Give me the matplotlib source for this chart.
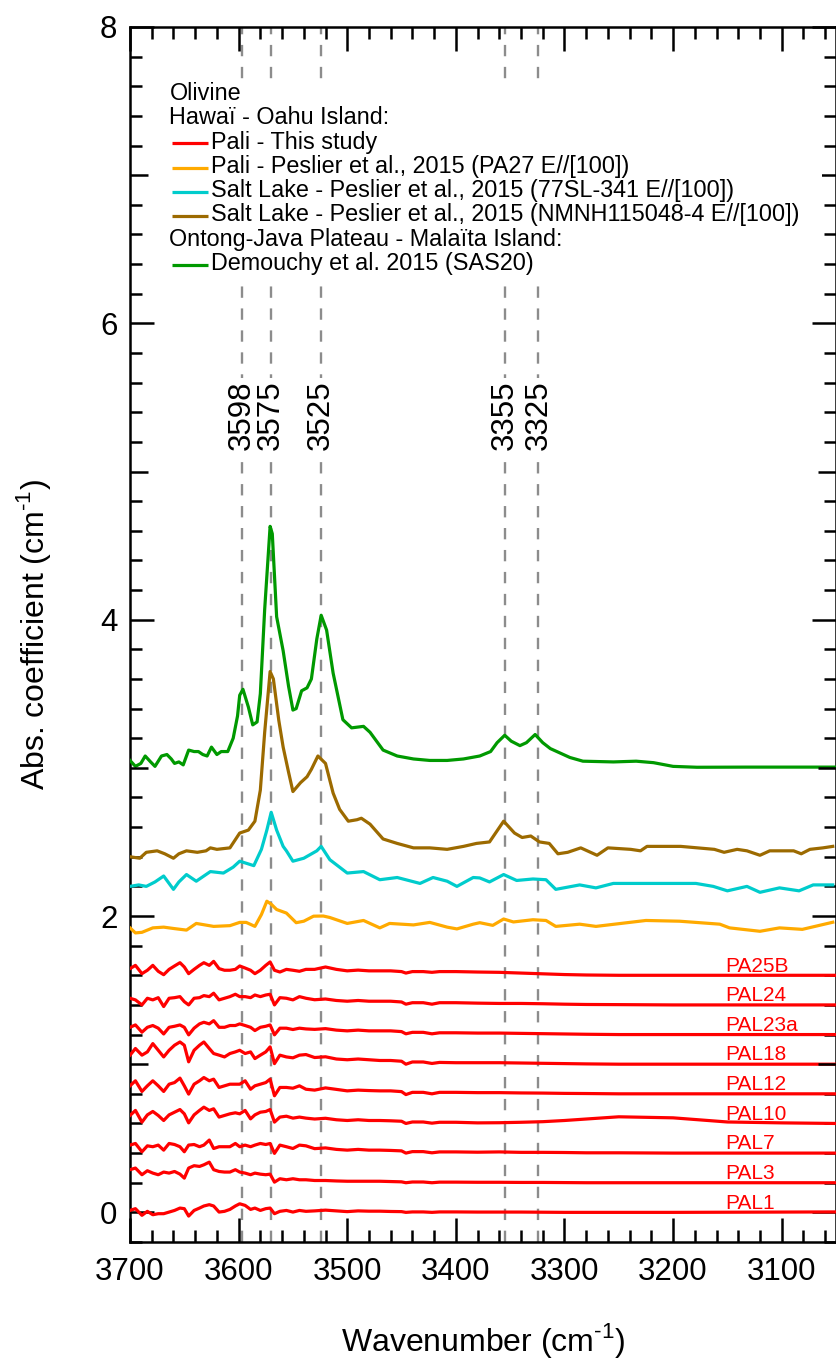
import numpy as np
import matplotlib.pyplot as plt
from matplotlib.transforms import blended_transform_factory
from matplotlib.patches import Rectangle

plt.rcParams['font.family'] = ['Liberation Sans', 'DejaVu Sans']
plt.rcParams['mathtext.fontset'] = 'custom'
plt.rcParams['mathtext.rm'] = 'Liberation Sans'

# wavenumber grid shared by the red (this study) spectra
x_red = [3700, 3695, 3689, 3684, 3679, 3674, 3669, 3664, 3659, 3654,
         3650, 3646, 3641, 3636, 3632, 3627, 3623, 3618, 3613, 3608,
         3603, 3599, 3594, 3589, 3585, 3580, 3575, 3571, 3567, 3562,
         3556, 3550, 3544, 3538, 3530, 3520, 3510, 3500, 3490, 3480,
         3470, 3460, 3450, 3446, 3440, 3430, 3422, 3415, 3400, 3380,
         3360, 3340, 3320, 3300, 3280, 3250, 3200, 3150, 3100, 3050]

# red spectra, in 1/100 cm-1 above their own offset
pa25b = [4.5, 6.7, 1.1, 3.4, 6.7, 2.7, 0.4, 4, 6.3, 8.5,
         5.6, 1.1, 4, 6.7, 8.5, 6.7, 9.4, 4.5, 3.4, 3.4,
         4, 6.3, 4.9, 3.4, 1.1, 3.4, 6.7, 9, 3.4, 2.2,
         4, 3.4, 2.7, 4, 4, 5.6, 4, 3, 3.5, 3,
         3, 3, 2.5, 1.5, 2.5, 2.5, 2, 2.5, 2.5, 2.2,
         2, 1.5, 1, 0.5, 0.2, 0, 0, 0, 0, 0]
pal24 = [4.5, 3.4, 0, 4.5, 3.4, 4.9, -1.1, 4.5, 4.9, 5.6,
         2.2, 0, 4.5, 4.9, 6.3, 5.6, 7.9, 3.4, 4.5, 5.6,
         7.2, 5.6, 5.6, 4.9, 6.7, 5.6, 6.7, 7.2, 0, 4.9,
         4.5, 3.4, 5.6, 4.5, 3.5, 4, 3, 2.5, 3, 2.5,
         2.5, 2.5, 2, 0.5, 1.5, 1.5, 0.5, 1.5, 1.5, 1.2,
         1, 1, 0.8, 0.5, 0.3, 0.2, 0, 0, 0, 0]
pal23a = [4.9, 6.5, 1.6, 4.9, 6.1, 4.3, 0.4, 4.9, 5.6, 6.5,
          4.9, -0.2, 4.3, 7.2, 8.3, 7.2, 9.4, 4.9, 4.9, 6.1,
          6.1, 7.2, 6.1, 4.9, 2.7, 4.9, 5.6, 6.5, -0.2, 4.3,
          4.3, 3.4, 4.3, 3.8, 3.5, 4, 3, 2.5, 3, 2.5,
          2.5, 2.5, 2, 0.5, 1.5, 1.5, 0.5, 1.2, 1.2, 1,
          1, 0.8, 0.6, 0.4, 0.2, 0, 0, 0, 0, 0]
pal18 = [6.1, 10.6, 6.1, 8.3, 13.9, 9.4, 4.9, 9.4, 12.8, 15,
         12.8, 1.6, 9.4, 12.8, 15, 10.6, 7.2, 6.1, 4.9, 7.2,
         8.3, 9.4, 7.2, 8.3, 3.8, 6.1, 8.3, 11.7, 0.4, 6.1,
         4.9, 4.3, 6.1, 6.5, 4.5, 5, 3.5, 3, 3.5, 3,
         2.5, 2.5, 2, 0, 1.5, 1.5, 0.5, 1.2, 1, 1,
         1, 0.8, 0.6, 0.4, 0.2, 0, 0, 0, 0, 0]
pal12 = [5.4, 8.8, 1.6, 5.4, 8.8, 5.4, 1.6, 6.5, 7.6, 10.6,
         5.4, -0.2, 6.5, 8.8, 11, 8.8, 9.9, 4.3, 5.4, 6.5,
         6.5, 6.5, 8.8, 3.1, 5.4, 6.5, 7.6, 9.9, -1.3, 4.3,
         4.3, 3.8, 5.4, 3.1, 2.5, 4, 3, 2, 2.5, 2.2,
         2, 2, 1.5, -0.5, 1, 1, 0, 1, 1, 0.8,
         0.8, 0.6, 0.5, 0.3, 0.2, 0, 0, 0, 0, 0]
pal10 = [5.4, 8.8, 0.9, 5.8, 8.1, 5.4, 2, 5.8, 7.6, 9.4,
         6.5, 0.4, 5.8, 8.8, 11, 8.8, 9.9, 4.3, 5.4, 6.5,
         7.2, 6.5, 8.8, 3.1, 5.8, 7.6, 8.1, 9.4, 0.9, 4.3,
         4.9, 3.6, 4.3, 3.6, 3, 3.5, 2.5, 2, 2.5, 2,
         2, 1.8, 1.5, 0, 1, 1, 0.2, 0.8, 0.8, 0.4,
         0.5, 0.8, 1.2, 2, 3, 4.5, 3.8, 1, 0.4, 0]
pal7 = [5.4, 6.5, 0.9, 4.9, 4.3, 5.4, 2, 6.5, 5.8, 4.3,
        0.9, 5.4, 5.8, 4.3, 5.4, 8.8, 3.1, 4.3, 4.3, 4.3,
        6.5, 4.3, 5.4, 4.3, 5.4, 6.5, 5.8, 6.5, -0.2, 5.4,
        4.3, 3.1, 5.4, 4.9, 3, 3.5, 2.5, 2, 2.5, 2,
        2, 1.8, 1.5, 0, 1, 1, 0.2, 0.8, 0.8, 0.6,
        0.8, 0.5, 0.5, 0.4, 0.2, 0.2, 0, 0, 0, 0]
pal3 = [8.8, 9.9, 5.4, 8.1, 6.5, 5.4, 7.2, 6.5, 7.6, 5.8,
        3.1, 9.9, 11.5, 11, 12.1, 13.9, 8.8, 7.6, 7.2, 7.2,
        8.8, 7.2, 6.5, 5.4, 6.5, 5.8, 5.4, 5.8, 0.4, 2.7,
        2, 2.7, 2, 2, 1.5, 1.5, 1.2, 1, 1, 1,
        1, 0.8, 0.6, 0, 0.5, 0.5, 0, 0.4, 0.4, 0.3,
        0.3, 0.2, 0.2, 0.1, 0, 0, 0, 0, 0, 0]
pal1 = [1.3, 2.5, -2, 0.7, -1.6, -0.9, -0.9, 0.2, 1.3, 2.9,
        2.5, -2.5, 1.3, 2.9, 4.3, 5.2, 4.3, 0.2, 0.7, 2,
        4.3, 5.8, 4.7, 2, 2.9, 1.3, 2.5, 2.9, -0.9, 0.7,
        1.3, 0.2, 1.3, 0.7, 1, 1.5, 1, 0.5, 1, 0.8,
        0.8, 0.6, 0.5, 0, 0.3, 0.3, 0, 0.3, 0.3, 0.2,
        0.2, 0.2, 0.1, 0, 0, 0, 0, 0.1, 0.2, 0.3]

red_names = ["PA25B", "PAL24", "PAL23a", "PAL18", "PAL12",
             "PAL10", "PAL7", "PAL3", "PAL1"]
red_offsets = [1.6, 1.4, 1.2, 1.0, 0.8, 0.6, 0.4, 0.2, 0.0]
red_curves = [pa25b, pal24, pal23a, pal18, pal12, pal10, pal7, pal3, pal1]

# Pali - Peslier et al. 2015 (PA27)
x_pa27 = [3700, 3695, 3689, 3679, 3669, 3659, 3648, 3639, 3623, 3608,
          3599, 3593, 3585, 3579, 3574, 3570, 3565, 3556, 3547, 3540,
          3531, 3522, 3516, 3500, 3485, 3470, 3461, 3439, 3424, 3408,
          3399, 3384, 3378, 3366, 3356, 3347, 3329, 3317, 3308, 3286,
          3271, 3225, 3194, 3157, 3148, 3120, 3102, 3081, 3053]
y_pa27 = [1.92, 1.886, 1.89, 1.92, 1.925, 1.915, 1.905, 1.95, 1.93, 1.935,
          1.957, 1.957, 1.93, 2.01, 2.1, 2.08, 2.044, 2.02, 1.955, 1.965,
          1.999, 2.0, 1.99, 1.95, 1.97, 1.92, 1.95, 1.94, 1.957, 1.925,
          1.913, 1.945, 1.955, 1.937, 1.98, 1.96, 1.975, 1.97, 1.93, 1.945,
          1.93, 1.97, 1.965, 1.945, 1.92, 1.897, 1.92, 1.91, 1.958]

# Salt Lake - 77SL-341
x_sl341 = [3700, 3692, 3685, 3677, 3669, 3660, 3655, 3648, 3639, 3626,
           3614, 3605, 3599, 3586, 3579, 3574, 3570, 3565, 3559, 3556,
           3550, 3540, 3528, 3524, 3516, 3500, 3485, 3470, 3454, 3433,
           3421, 3408, 3399, 3384, 3378, 3369, 3356, 3344, 3329, 3317,
           3308, 3286, 3271, 3255, 3225, 3179, 3163, 3150, 3132, 3120,
           3102, 3084, 3071, 3053]
y_sl341 = [2.20, 2.21, 2.20, 2.23, 2.27, 2.18, 2.23, 2.28, 2.235, 2.30,
           2.29, 2.33, 2.37, 2.34, 2.45, 2.58, 2.70, 2.58, 2.47, 2.44,
           2.37, 2.39, 2.44, 2.47, 2.38, 2.29, 2.30, 2.245, 2.26, 2.22,
           2.26, 2.235, 2.20, 2.26, 2.257, 2.23, 2.28, 2.24, 2.25, 2.245,
           2.18, 2.21, 2.19, 2.22, 2.22, 2.22, 2.20, 2.17, 2.20, 2.16,
           2.19, 2.17, 2.21, 2.21]

# Salt Lake - NMNH115048-4
x_nmnh = [3700, 3691, 3685, 3675, 3668, 3660, 3655, 3648, 3638, 3630,
          3626, 3620, 3608, 3599, 3591, 3585, 3580, 3576, 3571, 3568,
          3563, 3559, 3554, 3550, 3543, 3537, 3533, 3527, 3520, 3513,
          3507, 3499, 3491, 3487, 3479, 3467, 3454, 3439, 3424, 3408,
          3393, 3381, 3369, 3356, 3346, 3339, 3331, 3323, 3314, 3306,
          3297, 3285, 3270, 3260, 3239, 3230, 3224, 3193, 3162, 3153,
          3141, 3132, 3120, 3111, 3089, 3082, 3074, 3062, 3053]
y_nmnh = [2.40, 2.39, 2.43, 2.44, 2.42, 2.39, 2.42, 2.44, 2.43, 2.44,
          2.46, 2.45, 2.46, 2.56, 2.58, 2.64, 2.85, 3.24, 3.65, 3.60,
          3.32, 3.14, 2.97, 2.84, 2.90, 2.94, 2.99, 3.08, 3.03, 2.83,
          2.72, 2.64, 2.65, 2.66, 2.62, 2.52, 2.49, 2.46, 2.46, 2.45,
          2.47, 2.49, 2.50, 2.64, 2.56, 2.53, 2.54, 2.50, 2.49, 2.42,
          2.43, 2.46, 2.41, 2.46, 2.45, 2.44, 2.47, 2.47, 2.45, 2.43,
          2.45, 2.44, 2.41, 2.44, 2.44, 2.42, 2.45, 2.46, 2.47]

# Ontong-Java - Demouchy et al. 2015 (SAS20)
x_sas20 = [3700, 3695, 3690, 3686, 3681, 3677, 3671, 3666, 3662, 3659,
           3655, 3651, 3646, 3641, 3637, 3633, 3629, 3625, 3620, 3616,
           3610, 3605, 3601, 3599, 3596, 3591, 3587, 3583, 3580, 3576,
           3571, 3569, 3565, 3559, 3554, 3550, 3547, 3542, 3537, 3533,
           3528, 3524, 3519, 3513, 3504, 3496, 3485, 3479, 3467, 3454,
           3439, 3424, 3408, 3393, 3378, 3368, 3362, 3355, 3349, 3341,
           3335, 3327, 3320, 3313, 3304, 3295, 3283, 3255, 3234, 3218,
           3200, 3178, 3132, 3050]
y_sas20 = [3.05, 3.01, 3.03, 3.08, 3.04, 3.01, 3.08, 3.09, 3.06, 3.03,
           3.04, 3.02, 3.12, 3.11, 3.11, 3.09, 3.08, 3.14, 3.09, 3.11,
           3.11, 3.20, 3.35, 3.49, 3.53, 3.41, 3.29, 3.31, 3.50, 4.07,
           4.63, 4.58, 4.02, 3.79, 3.55, 3.39, 3.40, 3.52, 3.54, 3.60,
           3.87, 4.03, 3.93, 3.64, 3.325, 3.27, 3.28, 3.24, 3.12, 3.08,
           3.06, 3.05, 3.05, 3.06, 3.08, 3.11, 3.17, 3.22, 3.18, 3.15,
           3.17, 3.225, 3.17, 3.13, 3.10, 3.07, 3.045, 3.04, 3.045, 3.035,
           3.01, 3.004, 3.005, 3.005]

# OH bands marked by dashed lines (position, label)
band_pos = [3597, 3570, 3524, 3355, 3324]
band_labels = ["3598", "3575", "3525", "3355", "3325"]

legend_rows = ["Olivine",
               "Hawaï - Oahu Island:",
               "Pali - This study",
               "Pali - Peslier et al., 2015 (PA27 E//[100])",
               "Salt Lake - Peslier et al., 2015 (77SL-341 E//[100])",
               "Salt Lake - Peslier et al., 2015 (NMNH115048-4 E//[100])",
               "Ontong-Java Plateau - Malaïta Island:",
               "Demouchy et al. 2015 (SAS20)"]
legend_colors = [None, None, "#ff0000", "#ffaa00", "#00cccc", "#9c6a00", None, "#009900"]

LW = 2.3

fig = plt.figure(figsize=(8.37, 13.62), dpi=100)
ax = fig.add_axes([130 / 837, 1 - 1242 / 1362, 706 / 837, 1215 / 1362])

# dashed band markers + labels
for pos, lab in zip(band_pos, band_labels):
    ax.axvline(pos, color="#8c8c8c", lw=1.7, dashes=(4.8, 4.5), zorder=1)
    ax.text(pos, 5.38, lab, rotation=90, ha="center", va="center", fontsize=22.5,
            bbox=dict(boxstyle="square,pad=0.08", fc="white", ec="none"), zorder=2)

# this study
for name, off, vals in zip(red_names, red_offsets, red_curves):
    ax.plot(x_red, off + np.array(vals) / 100, color="#ff0000", lw=LW, zorder=3)
    ax.text(3152, off + 0.025, name, color="#ff0000", fontsize=15,
            ha="left", va="baseline", zorder=4)

ax.plot(x_pa27, y_pa27, color="#ffaa00", lw=LW, zorder=3)
ax.plot(x_sl341, y_sl341, color="#00cccc", lw=LW, zorder=3)
ax.plot(x_nmnh, y_nmnh, color="#9c6a00", lw=LW, zorder=3)
ax.plot(x_sas20, y_sas20, color="#009900", lw=LW, zorder=3)

ax.set_xlim(3700, 3050)
ax.set_ylim(-0.2, 8)
ax.set_xticks(np.arange(3700, 3099, -100))
ax.set_xticks(np.arange(3700, 3049, -20), minor=True)
ax.set_yticks([0, 2, 4, 6, 8])
ax.set_yticks([v / 5 for v in range(-1, 41) if v % 5 != 0], minor=True)

for s in ax.spines.values():
    s.set_linewidth(1.8)
ax.tick_params(which="both", direction="in", top=True, right=True, width=1.8,
               labelsize=22.5)
ax.tick_params(which="major", length=17)
ax.tick_params(which="minor", length=8.5)
ax.tick_params(axis="x", pad=11)
ax.tick_params(axis="y", pad=9)

# medium ticks at odd integers
tr = blended_transform_factory(ax.transAxes, ax.transData)
for yv in [1, 3, 5, 7]:
    ax.plot([0, 0.026], [yv, yv], color="black", lw=1.8, transform=tr, zorder=5,
            solid_capstyle="butt")
    ax.plot([0.974, 1], [yv, yv], color="black", lw=1.8, transform=tr, zorder=5,
            solid_capstyle="butt")

ax.set_xlabel(r"Wavenumber (cm$^{\text{-1}}$)", fontsize=23, labelpad=24)
ax.set_ylabel(r"Abs. coefficient (cm$^{\text{-1}}$)", fontsize=23, labelpad=34)


# legend drawn by hand (Igor-style, headers flush left)
def fx(px):
    return (px - 130) / 706


def fy(py):
    return (1242 - py) / 1215


ax.add_patch(Rectangle((fx(162), fy(278)), fx(822) - fx(162), fy(80) - fy(278),
                       transform=ax.transAxes, fc="white", ec="none", zorder=6))
for i, (row, col) in enumerate(zip(legend_rows, legend_colors)):
    base = 100 + 24.3 * i
    if col is None:
        ax.text(fx(169.5), fy(base), row, transform=ax.transAxes, fontsize=16.8,
                ha="left", va="baseline", zorder=7)
    else:
        ax.plot([fx(172), fx(208)], [fy(base - 5.2)] * 2, color=col, lw=LW,
                transform=ax.transAxes, zorder=7, solid_capstyle="butt")
        ax.text(fx(211.5), fy(base), row, transform=ax.transAxes, fontsize=16.8,
                ha="left", va="baseline", zorder=7)

fig.savefig("out.png", dpi=100)
